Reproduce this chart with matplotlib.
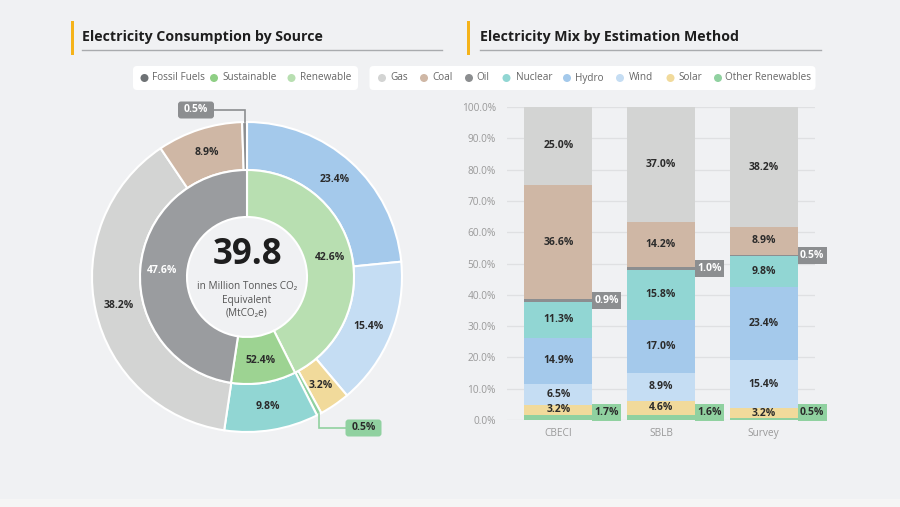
import matplotlib
matplotlib.use("Agg")
import matplotlib.pyplot as plt
from matplotlib.patches import Rectangle, FancyBboxPatch, Circle
import numpy as np

plt.rcParams['font.family'] = ['Open Sans', 'DejaVu Sans']

# ---------------- data ----------------
methods = ["CBECI", "SBLB", "Survey"]
sources = ["Gas", "Coal", "Oil", "Nuclear", "Hydro", "Wind", "Solar", "Other Renewables"]
gas = [25.0, 37.0, 38.2]
coal = [36.6, 14.2, 8.9]
oil = [0.9, 1.0, 0.5]
nuclear = [11.3, 15.8, 9.8]
hydro = [14.9, 17.0, 23.4]
wind = [6.5, 8.9, 15.4]
solar = [3.2, 4.6, 3.2]
other_renew = [1.7, 1.6, 0.5]

group_names = ["Fossil Fuels", "Sustainable", "Renewable"]
inner_names = ["Renewable", "Sustainable", "Fossil Fuels"]      # clockwise from top
inner_values = [42.6, 9.8, 47.6]
inner_labels = ["42.6%", "52.4%", "47.6%"]
outer_names = ["Hydro", "Wind", "Solar", "Other Renewables", "Nuclear", "Gas", "Coal", "Oil"]
outer_values = [23.4, 15.4, 3.2, 0.5, 9.8, 38.2, 8.9, 0.5]
total_value = "39.8"
y_ticks = [0, 10, 20, 30, 40, 50, 60, 70, 80, 90, 100]

# ---------------- styles ----------------
BG = "#f0f1f3"
src_colors = {"Gas": "#d3d4d3", "Coal": "#cfb7a5", "Oil": "#8c8e90", "Nuclear": "#91d6d3",
              "Hydro": "#a4c9eb", "Wind": "#c5ddf3", "Solar": "#f1da9b",
              "Other Renewables": "#90d1a0"}
grp_colors = {"Fossil Fuels": "#9a9c9f", "Sustainable": "#9dd392", "Renewable": "#b8dfb1"}
legend_grp_colors = {"Fossil Fuels": "#6e7275", "Sustainable": "#8fcf85", "Renewable": "#b8dfb1"}
DARK = "#2b2b2b"

W, H = 900, 507
fig = plt.figure(figsize=(9, 5.07), dpi=100, facecolor=BG)

# overlay axes in pixel coordinates (y downward)
bg = fig.add_axes([0, 0, 1, 1])
bg.set_xlim(0, W)
bg.set_ylim(H, 0)
bg.axis("off")
bg.add_patch(Rectangle((0, 499), W, 8, color="#f5f5f5", lw=0))

# titles
for x_bar, x_txt, x_end, title in [(71, 82, 442, "Electricity Consumption by Source"),
                                   (467, 480, 821, "Electricity Mix by Estimation Method")]:
    bg.add_patch(Rectangle((x_bar, 21), 3, 34, color="#f5b31a", lw=0))
    bg.plot([x_txt, x_end], [50, 50], color="#a9abae", lw=1)
    bg.text(x_txt, 37, title, fontsize=10.2, fontweight="bold", color="#1e1e1e",
            ha="left", va="center")

# legend boxes
def legend_box(x0, x1, items):
    bg.add_patch(FancyBboxPatch((x0, 66), x1 - x0, 24,
                                boxstyle="round,pad=0,rounding_size=4",
                                fc="white", ec="none"))
    for dot_x, txt_x, name, col in items:
        bg.add_patch(Circle((dot_x, 78), 4, fc=col, ec="none"))
        bg.text(txt_x, 78, name, fontsize=7.2, color="#666666", ha="left", va="center")

legend_box(133, 358, [(144.5, 152.5, "Fossil Fuels", legend_grp_colors["Fossil Fuels"]),
                      (214, 222, "Sustainable", legend_grp_colors["Sustainable"]),
                      (291.5, 300, "Renewable", legend_grp_colors["Renewable"])])
src_dots = [382, 424, 469, 506.5, 567, 620, 670.5, 718]
src_txt = [390, 432.5, 476.5, 516, 575, 629, 678, 725]
legend_box(369.5, 815.5, [(d, t, n, src_colors[n]) for d, t, n in zip(src_dots, src_txt, sources)])

# ---------------- donut ----------------
cx, cy, half = 247, 277, 170
dax = fig.add_axes([(cx - half) / W, (H - cy - half) / H, 2 * half / W, 2 * half / H])
R_OUT, R_MID, R_IN = 1.55, 1.07, 0.60
dax.pie(outer_values, radius=R_OUT, startangle=90, counterclock=False,
        colors=[src_colors[n] for n in outer_names],
        wedgeprops=dict(width=R_OUT - R_MID, edgecolor="white", linewidth=1.5))
dax.pie(inner_values, radius=R_MID, startangle=90, counterclock=False,
        colors=[grp_colors[n] for n in inner_names],
        wedgeprops=dict(width=R_MID - R_IN, edgecolor="white", linewidth=1.5))
dax.set_xlim(-1.7, 1.7)
dax.set_ylim(-1.7, 1.7)
dax.axis("off")

def mid_angles(vals):
    tot = sum(vals)
    cum = np.cumsum([0] + list(vals[:-1]))
    return [np.deg2rad(90 - 360 * (c + v / 2) / tot) for c, v in zip(cum, vals)]

for a, lab, name in zip(mid_angles(inner_values), inner_labels, inner_names):
    r = 0.85
    dax.text(r * np.cos(a), r * np.sin(a), lab, ha="center", va="center",
             fontsize=7.5, fontweight="bold",
             color="white" if name == "Fossil Fuels" else DARK)

outer_angles = mid_angles(outer_values)
for a, v, name in zip(outer_angles, outer_values, outer_names):
    if name in ("Oil", "Other Renewables"):
        continue
    r = 1.31
    dax.text(r * np.cos(a), r * np.sin(a), f"{v:.1f}%", ha="center", va="center",
             fontsize=7.5, fontweight="bold", color=DARK)

def px2d(x, y):
    return (x - cx) / 100.0, (cy - y) / 100.0

def callout(name, box_center_px, box_fc, txt_col, line_col):
    i = outer_names.index(name)
    a = outer_angles[i]
    v = outer_values[i]
    sx, sy = R_OUT * np.cos(a), R_OUT * np.sin(a)
    bx, by = px2d(*box_center_px)
    bw, bh = 0.36, 0.17
    edge_x = bx + bw / 2 if bx < sx else bx - bw / 2
    dax.plot([sx, sx, edge_x], [sy, by, by],
             color=line_col, lw=1.2, clip_on=False, solid_joinstyle="miter", zorder=3)
    dax.add_patch(FancyBboxPatch((bx - bw / 2, by - bh / 2), bw, bh,
                                 boxstyle="round,pad=0,rounding_size=0.03",
                                 fc=box_fc, ec="none", clip_on=False, zorder=4))
    dax.text(bx, by, f"{v:.1f}%", ha="center", va="center", fontsize=7.5,
             fontweight="bold", color=txt_col, zorder=5, clip_on=False)

callout("Oil", (196, 110), "#8c8e90", "white", "#8c8e90")
callout("Other Renewables", (363.5, 428), "#90d1a0", DARK, "#90d1a0")

# center text
dax.text(0, px2d(0, 255)[1], total_value, ha="center", va="center", fontsize=25,
         fontweight="bold", color="#1e1e1e")
for txt, ypx in [("in Million Tonnes CO\u2082", 287), ("Equivalent", 300), ("(MtCO\u2082e)", 313)]:
    dax.text(0, px2d(0, ypx)[1], txt, ha="center", va="center", fontsize=7.2, color="#555555")

# ---------------- stacked bars ----------------
bax = fig.add_axes([507 / W, (H - 420) / H, 308 / W, 313 / H])
bax.set_facecolor("none")
x = np.arange(len(methods))
bw = 0.66
series = {"Gas": gas, "Coal": coal, "Oil": oil, "Nuclear": nuclear, "Hydro": hydro,
          "Wind": wind, "Solar": solar, "Other Renewables": other_renew}
stack_order = sources[::-1]
bottom = np.zeros(len(methods))
box_w = 29 / 102.67
box_h = 17 / 3.13
for name in stack_order:
    vals = np.array(series[name])
    bax.bar(x, vals, bottom=bottom, width=bw, color=src_colors[name], lw=0, zorder=2)
    for xi, v, b in zip(x, vals, bottom):
        if name == "Oil":
            yc = b + v / 2
            bax.add_patch(Rectangle((xi + bw / 2, yc - box_h / 2), box_w, box_h,
                                    fc="#8c8e90", ec="none", zorder=4, clip_on=False))
            bax.text(xi + bw / 2 + box_w / 2, yc, f"{v:.1f}%", ha="center", va="center",
                     fontsize=7.5, fontweight="bold", color="white", zorder=5)
        elif name == "Other Renewables":
            y0 = -0.4
            bax.add_patch(Rectangle((xi + bw / 2, y0), box_w, box_h,
                                    fc="#90d1a0", ec="none", zorder=4, clip_on=False))
            bax.text(xi + bw / 2 + box_w / 2, y0 + box_h / 2, f"{v:.1f}%", ha="center",
                     va="center", fontsize=7.5, fontweight="bold", color=DARK, zorder=5)
        else:
            bax.text(xi, b + v / 2, f"{v:.1f}%", ha="center", va="center",
                     fontsize=7.5, fontweight="bold", color=DARK, zorder=3)
    bottom = bottom + vals

bax.set_xlim(-0.5, 2.5)
bax.set_ylim(0, 100)
bax.set_yticks(y_ticks)
bax.set_yticklabels([f"{t:.1f}%" for t in y_ticks])
bax.set_xticks(x)
bax.set_xticklabels(methods)
bax.tick_params(axis="both", length=0, labelsize=7.3, labelcolor="#999999")
bax.tick_params(axis="y", pad=8)
bax.tick_params(axis="x", pad=6)
bax.grid(axis="y", color="#dfe0e2", lw=0.9, zorder=0)
bax.set_axisbelow(True)
for s in bax.spines.values():
    s.set_visible(False)

fig.savefig("out.png", dpi=100, facecolor=BG)
